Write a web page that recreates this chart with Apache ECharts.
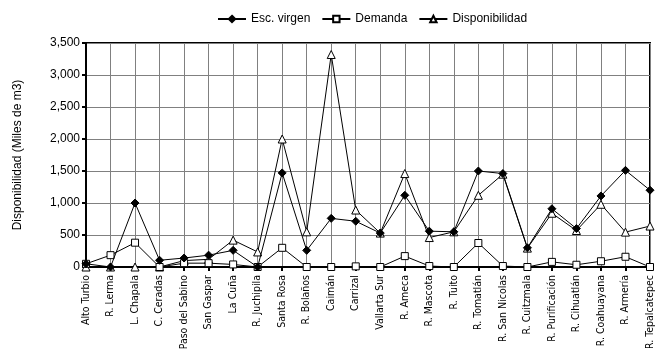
<!DOCTYPE html>
<html>
<head>
<meta charset="utf-8">
<script src="https://cdn.jsdelivr.net/npm/echarts@6/dist/echarts.min.js"></script>
<style>html,body{margin:0;padding:0;background:#fff}#c{width:669px;height:363px}</style>
</head>
<body>
<div id="c"></div>
<script>
var categories = ["Alto Turbio","R. Lerma","L. Chapala","C. Ceradas","Paso del Sabino","San Gaspar","La Cuña","R. Juchipila","Santa Rosa","R. Bolaños","Caimán","Carrizal","Vallarta Sur","R. Ameca","R. Mascota","R. Tuito","R. Tomatlán","R. San Nicolas","R. Cuitzmala","R. Purificación","R. Cihuatlán","R. Coahuayana","R. Armería","R. Tepalcatepec"];
var escVirgen = [50,0,1000,105,140,185,260,0,1470,260,760,715,530,1120,560,550,1500,1460,300,910,600,1110,1510,1200];
var demanda = [50,185,380,0,60,60,40,0,300,0,0,10,0,170,15,0,375,15,0,80,35,90,160,0];
var disponibilidad = [0,0,0,0,100,120,420,235,2000,550,3320,890,530,1460,460,550,1120,1450,295,840,570,980,545,640];
var yTicks = [0,500,1000,1500,2000,2500,3000,3500];

var font = "Liberation Sans, Arial, sans-serif";
var narrow = "DejaVu Sans Condensed, Liberation Sans, sans-serif";
var chart = echarts.init(document.getElementById('c'));
function fmt(v){return v.toString().replace(/\B(?=(\d{3})+(?!\d))/g, ",");}
chart.setOption({
  animation: false,
  backgroundColor: '#fff',
  textStyle: {fontFamily: font, color: '#000'},
  legend: {
    top: 8, left: 212, itemWidth: 28, itemHeight: 8, itemGap: 11,
    textStyle: {fontFamily: font, fontSize: 12, color: '#000'},
    data: ['Esc. virgen','Demanda','Disponibilidad']
  },
  grid: {left: 86, right: 19, top: 43, bottom: 96, show: true, borderColor: '#000', borderWidth: 2},
  xAxis: {
    type: 'category', data: categories, boundaryGap: false,
    axisLine: {lineStyle: {color: '#000', width: 2}},
    axisTick: {show: true, length: 4, lineStyle: {color: '#000', width: 2}},
    axisLabel: {interval: 0, rotate: 90, fontFamily: narrow, fontSize: 10.5, color: '#000', margin: 8},
    splitLine: {show: true, lineStyle: {color: '#808080', width: 1}}
  },
  yAxis: {
    type: 'value', min: yTicks[0], max: yTicks[yTicks.length-1], interval: 500,
    name: 'Disponibilidad (Miles de m3)', nameLocation: 'middle', nameGap: 62,
    nameTextStyle: {fontFamily: font, fontSize: 12, color: '#000'},
    axisLine: {show: true, lineStyle: {color: '#000', width: 2}},
    axisTick: {show: true, length: 4, lineStyle: {color: '#000', width: 2}},
    axisLabel: {fontFamily: font, fontSize: 12, color: '#000', margin: 6, formatter: fmt},
    splitLine: {show: true, lineStyle: {color: '#808080', width: 1}}
  },
  series: [
    {name: 'Disponibilidad', type: 'line', data: disponibilidad, symbol: 'triangle', symbolSize: 8,
     lineStyle: {color: '#000', width: 1}, itemStyle: {color: '#fff', borderColor: '#000', borderWidth: 1}, z: 3},
    {name: 'Demanda', type: 'line', data: demanda, symbol: 'rect', symbolSize: 7,
     lineStyle: {color: '#000', width: 1}, itemStyle: {color: '#fff', borderColor: '#000', borderWidth: 1}, z: 4},
    {name: 'Esc. virgen', type: 'line', data: escVirgen, symbol: 'diamond', symbolSize: 8,
     lineStyle: {color: '#000', width: 1}, itemStyle: {color: '#000', borderColor: '#000', borderWidth: 1}, z: 5}
  ]
});
</script>
</body>
</html>
